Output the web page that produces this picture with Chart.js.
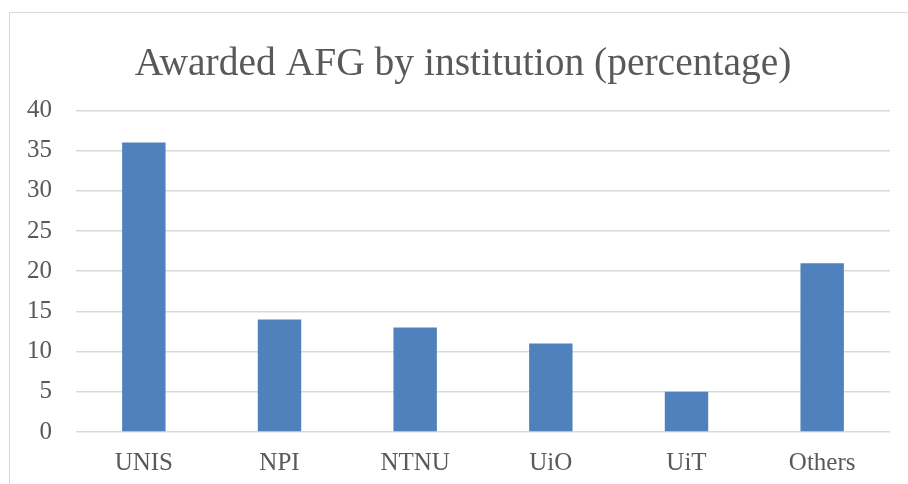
<!DOCTYPE html>
<html>
<head>
<meta charset="utf-8">
<script src="https://cdn.jsdelivr.net/npm/chart.js@4"></script>
<style>
    html, body { margin: 0; padding: 0; background: #fff; overflow: hidden; }
    #frame {
        position: absolute; left: 9px; top: 12px;
        width: 899px; height: 472px;
        border-left: 1px solid #d9d9d9; border-top: 1px solid #d9d9d9;
    }
    canvas { display: block; }
</style>
</head>
<body>
<div id="frame"><canvas id="chart" width="899" height="472"></canvas></div>
<script>
// data
const institutions = ['UNIS', 'NPI', 'NTNU', 'UiO', 'UiT', 'Others'];
const awardedPercent = [36, 14, 13, 11, 5, 21];
const yTicks = [0, 5, 10, 15, 20, 25, 30, 35, 40];

const fontFamily = '"Liberation Serif", "DejaVu Serif", serif';
const textColor = '#595959';

// the original frame is wider than the window, so its title sits a bit right of centre
const shiftTitle = {
    id: 'shiftTitle',
    afterLayout(chart) {
        const t = chart.titleBlock;
        if (t) { t.left += 13; t.right += 13; }
    }
};

new Chart(document.getElementById('chart'), {
    type: 'bar',
    data: {
        labels: institutions,
        datasets: [{
            label: 'Awarded AFG (%)',
            data: awardedPercent,
            backgroundColor: '#4f81bd',
            borderWidth: 0,
            barPercentage: 1,
            categoryPercentage: 0.32
        }]
    },
    options: {
        responsive: false,
        animation: false,
        layout: { padding: { left: 0, right: 19, top: 0, bottom: 0 } },
        plugins: {
            legend: { display: false },
            tooltip: { enabled: false },
            title: {
                display: true,
                text: 'Awarded AFG by institution (percentage)',
                color: textColor,
                font: { family: fontFamily, size: 39.5, weight: 'normal' },
                padding: { top: 28, bottom: 22 }
            }
        },
        scales: {
            x: {
                grid: { display: false, drawTicks: false },
                border: { display: false },
                ticks: {
                    color: textColor,
                    padding: 16,
                    font: { family: fontFamily, size: 25 }
                },
                afterFit: (scale) => { scale.height = 53; }
            },
            y: {
                min: 0,
                max: 40,
                afterBuildTicks: (scale) => {
                    scale.ticks = yTicks.map(v => ({ value: v }));
                },
                grid: { color: '#d9d9d9', lineWidth: 1.5, drawTicks: false },
                border: { display: false },
                ticks: {
                    color: textColor,
                    padding: 24,
                    font: { family: fontFamily, size: 25 }
                },
                afterFit: (scale) => { scale.width = 66; }
            }
        }
    },
    plugins: [shiftTitle]
});
</script>
</body>
</html>
